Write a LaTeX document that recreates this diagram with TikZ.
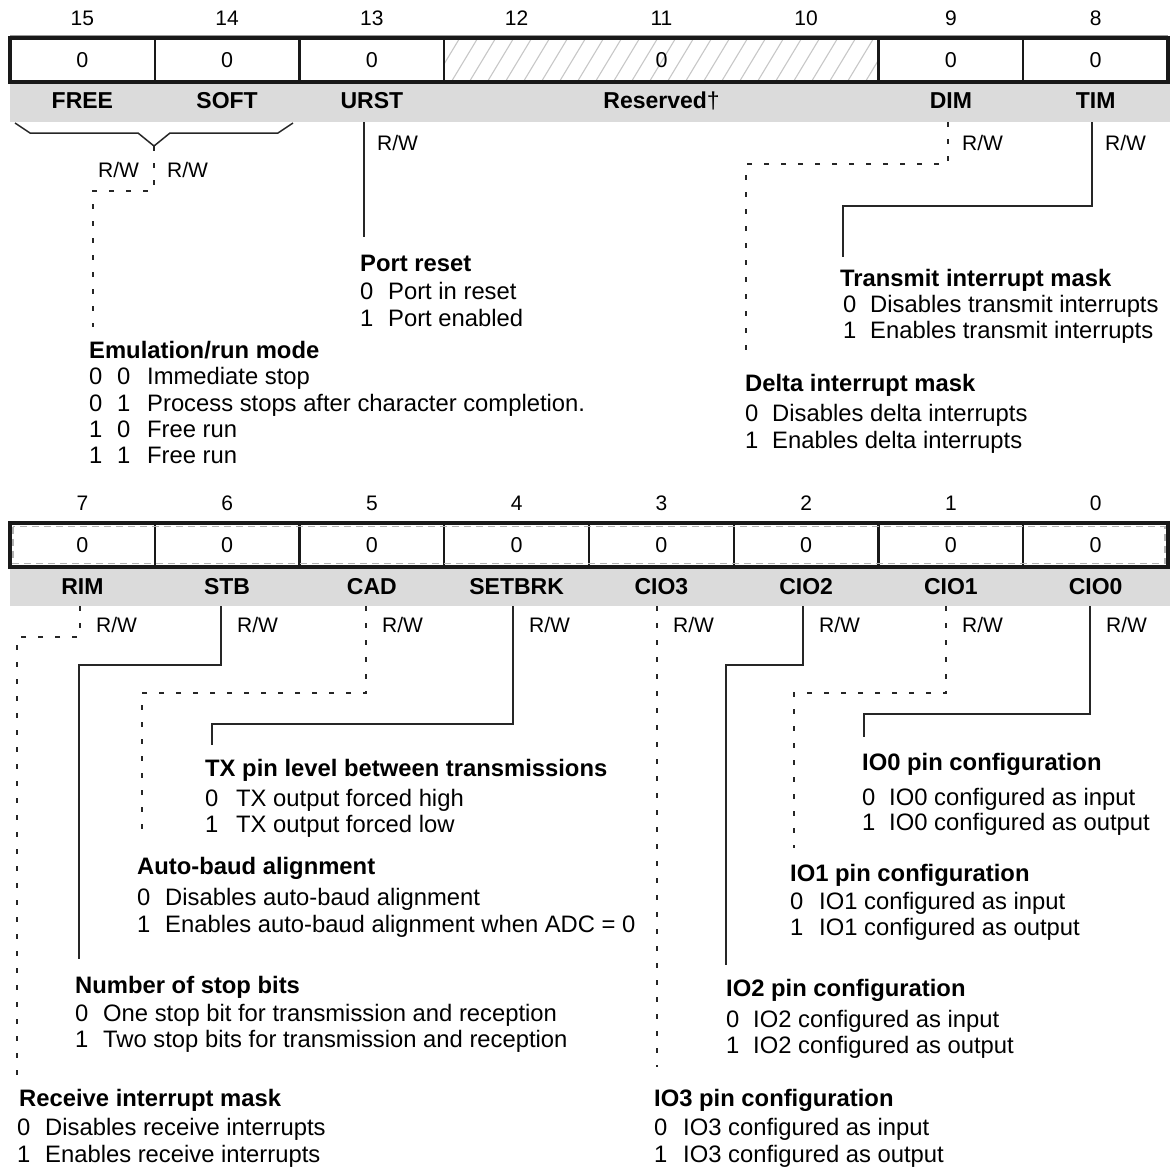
\documentclass[tikz,border=0pt]{standalone}
\usepackage{fontspec}
\setmainfont{Liberation Sans}
\newcommand{\optline}[6]{%
  \node[txt] (#1d) at (#2,#4) {#5};
  \node[txt] (#1t) at (#3,#4) {#6};}
\begin{document}
\begin{tikzpicture}[x=1pt,y=-1pt,
  txt/.style={font=\fontsize{23.8}{27}\selectfont, inner sep=0pt, anchor=west, text height=17pt, text depth=0pt},
  hd/.style={txt, font=\fontsize{23.8}{27}\selectfont\bfseries},
  bitn/.style={font=\fontsize{21}{24}\selectfont, inner sep=0pt, text height=15pt, text depth=0pt},
  val/.style={font=\fontsize{21.5}{24}\selectfont, inner sep=0pt, text height=15.4pt, text depth=0pt},
  fld/.style={font=\fontsize{23}{24}\selectfont\bfseries, inner sep=0pt, text height=16.5pt, text depth=0pt},
  rw/.style={font=\fontsize{21}{24}\selectfont, inner sep=0pt, anchor=west, text height=15pt, text depth=0pt},
  solidc/.style={line width=1.5pt, black!85},
  dashc/.style={line width=1.3pt, black!85, dash pattern=on 5pt off 12pt},
  regbox/.style={line width=4pt, black!90},
  sep/.style={line width=2.2pt, black!90},
  bar/.style={fill=black!14, draw=none},
]
\useasboundingbox (0,0) rectangle (1174,1168);

% ================= TOP REGISTER =================
\fill[bar] (10,82) rectangle (1170,122);
\begin{scope}
  \clip (444.5,40) rectangle (878.5,80);
  \foreach \i in {0,...,28} \draw[black!22, line width=1.1pt] (414+\i*18,84) -- (443+\i*18,36);
\end{scope}
\foreach \k in {1,2,3,6,7} \draw[sep] (10+\k*144.75,38) -- (10+\k*144.75,82);
\draw[black!40, line width=0.6pt] (10,35.5) -- (1168,35.5);
\draw[regbox] (10,38) rectangle (1168,82);

\foreach \b/\k in {15/0,14/1,13/2,12/3,11/4,10/5,9/6,8/7}
  \node[bitn] (bt\b) at (82.4+\k*144.75,18) {\b};
\foreach \b/\k in {15/0,14/1,13/2,9/6,8/7}
  \node[val] (vt\b) at (82.4+\k*144.75,60) {0};
\node[val] (vres) at (661.6,60) {0};

\node[fld] (FREE) at (82.4,100) {FREE};
\node[fld] (SOFT) at (227.1,100) {SOFT};
\node[fld] (URST) at (371.9,100) {URST};
\node[fld] (RES) at (661.6,100) {Reserved{\mdseries †}};
\node[fld] (DIM) at (950.9,100) {DIM};
\node[fld] (TIM) at (1095.6,100) {TIM};

% coordinates
\coordinate (bL) at (15,123);
\coordinate (bR) at (293,123);
\coordinate (bV) at (154,146);
\coordinate (emuEnd) at (93,327);
\coordinate (urstS) at (364,122);
\coordinate (urstE) at (364,237);
\coordinate (dimS) at (948,122);
\coordinate (dimE) at (746,355);
\coordinate (timS) at (1092,122);
\coordinate (timE) at (843,257);

% brace and connectors
\draw[solidc, line join=miter] (bL) -- (30,133) -- (138,133) -- (bV) -- (170,133) -- (278,133) -- (bR);
\draw[dashc] (bV) -- (154,191) -| (emuEnd);
\draw[solidc] (urstS) -- (urstE);
\draw[dashc] (dimS) -- (948,164) -| (dimE);
\draw[solidc] (timS) -- (1092,206) -| (timE);

% R/W
\node[rw] (rw15) at (98,170) {R/W};
\node[rw] (rw14) at (167,170) {R/W};
\node[rw] (rw13) at (377,143) {R/W};
\node[rw] (rw9) at (962,143) {R/W};
\node[rw] (rw8) at (1105,143) {R/W};

% descriptions top
\node[hd] (emuH) at (89,350) {Emulation/run mode};
\node[txt] (e1a) at (89,376) {0}; \node[txt] (e1b) at (117,376) {0}; \node[txt] (e1c) at (147,376) {Immediate stop};
\node[txt] (e2a) at (89,403) {0}; \node[txt] (e2b) at (117,403) {1}; \node[txt] (e2c) at (147,403) {Process stops after character completion.};
\node[txt] (e3a) at (89,429) {1}; \node[txt] (e3b) at (117,429) {0}; \node[txt] (e3c) at (147,429) {Free run};
\node[txt] (e4a) at (89,455) {1}; \node[txt] (e4b) at (117,455) {1}; \node[txt] (e4c) at (147,455) {Free run};

\node[hd] (portH) at (360,263) {Port reset};
\optline{p0}{360}{388}{291}{0}{Port in reset}
\optline{p1}{360}{388}{318}{1}{Port enabled}

\node[hd] (timH) at (840,278) {Transmit interrupt mask};
\optline{t0}{843}{870}{304}{0}{Disables transmit interrupts}
\optline{t1}{843}{870}{330}{1}{Enables transmit interrupts}

\node[hd] (dimH) at (745,383) {Delta interrupt mask};
\optline{d0}{745}{772}{413}{0}{Disables delta interrupts}
\optline{d1}{745}{772}{440}{1}{Enables delta interrupts}

% ================= BOTTOM REGISTER =================
\fill[bar] (10,567) rectangle (1170,606);
\foreach \k in {1,...,7} \draw[sep] (10+\k*144.75,523) -- (10+\k*144.75,567);
\draw[regbox] (10,523) rectangle (1168,567);
\draw[black!30, line width=1.2pt, dash pattern=on 7pt off 5pt] (13,526.5) rectangle (1165,563.5);

\foreach \b/\k in {7/0,6/1,5/2,4/3,3/4,2/5,1/6,0/7}{
  \node[bitn] (bb\b) at (82.4+\k*144.75,503) {\b};
  \node[val] (vb\b) at (82.4+\k*144.75,545) {0};
}
\node[fld] (RIM) at (82.4,586) {RIM};
\node[fld] (STB) at (227.1,586) {STB};
\node[fld] (CAD) at (371.9,586) {CAD};
\node[fld] (SETBRK) at (516.6,586) {SETBRK};
\node[fld] (CIO3) at (661.4,586) {CIO3};
\node[fld] (CIO2) at (806.1,586) {CIO2};
\node[fld] (CIO1) at (950.9,586) {CIO1};
\node[fld] (CIO0) at (1095.6,586) {CIO0};

\foreach \n/\x in {7/80,6/221,5/366,4/513,3/657,2/803,1/946,0/1090}
  \node[rw] (rwb\n) at (\x+16,625) {R/W};

\coordinate (rimS) at (80,606);   \coordinate (rimE) at (17,1077);
\coordinate (stbS) at (221,606);  \coordinate (stbE) at (79,959);
\coordinate (cadS) at (366,606);  \coordinate (cadE) at (142,839);
\coordinate (brkS) at (513,606);  \coordinate (brkE) at (212,745);
\coordinate (c3S) at (657,606);   \coordinate (c3E) at (657,1067);
\coordinate (c2S) at (803,606);   \coordinate (c2E) at (726,965);
\coordinate (c1S) at (946,606);   \coordinate (c1E) at (794,848);
\coordinate (c0S) at (1090,606);  \coordinate (c0E) at (864,737);

\draw[dashc] (rimS) -- (80,637) -| (rimE);
\draw[solidc] (stbS) -- (221,665) -| (stbE);
\draw[dashc] (cadS) -- (366,693) -| (cadE);
\draw[solidc] (brkS) -- (513,724) -| (brkE);
\draw[dashc] (c3S) -- (c3E);
\draw[solidc] (c2S) -- (803,665) -| (c2E);
\draw[dashc] (c1S) -- (946,693) -| (c1E);
\draw[solidc] (c0S) -- (1090,714) -| (c0E);

\node[hd] (txH) at (205,768) {TX pin level between transmissions};
\optline{x0}{205}{236}{798}{0}{TX output forced high}
\optline{x1}{205}{236}{824}{1}{TX output forced low}

\node[hd] (abH) at (137,866) {Auto-baud alignment};
\optline{a0}{137}{165}{897}{0}{Disables auto-baud alignment}
\optline{a1}{137}{165}{924}{1}{Enables auto-baud alignment when ADC = 0}

\node[hd] (sbH) at (75,985) {Number of stop bits};
\optline{s0}{75}{103}{1013}{0}{One stop bit for transmission and reception}
\optline{s1}{75}{103}{1039}{1}{Two stop bits for transmission and reception}

\node[hd] (rimH) at (19,1098) {Receive interrupt mask};
\optline{r0}{17}{45}{1127}{0}{Disables receive interrupts}
\optline{r1}{17}{45}{1154}{1}{Enables receive interrupts}

\node[hd] (io0H) at (862,762) {IO0 pin configuration};
\optline{i00}{862}{889}{797}{0}{IO0 configured as input}
\optline{i01}{862}{889}{822}{1}{IO0 configured as output}

\node[hd] (io1H) at (790,873) {IO1 pin configuration};
\optline{i10}{790}{819}{901}{0}{IO1 configured as input}
\optline{i11}{790}{819}{927}{1}{IO1 configured as output}

\node[hd] (io2H) at (726,988) {IO2 pin configuration};
\optline{i20}{726}{753}{1019}{0}{IO2 configured as input}
\optline{i21}{726}{753}{1045}{1}{IO2 configured as output}

\node[hd] (io3H) at (654,1098) {IO3 pin configuration};
\optline{i30}{654}{683}{1127}{0}{IO3 configured as input}
\optline{i31}{654}{683}{1154}{1}{IO3 configured as output}
\end{tikzpicture}
\end{document}
